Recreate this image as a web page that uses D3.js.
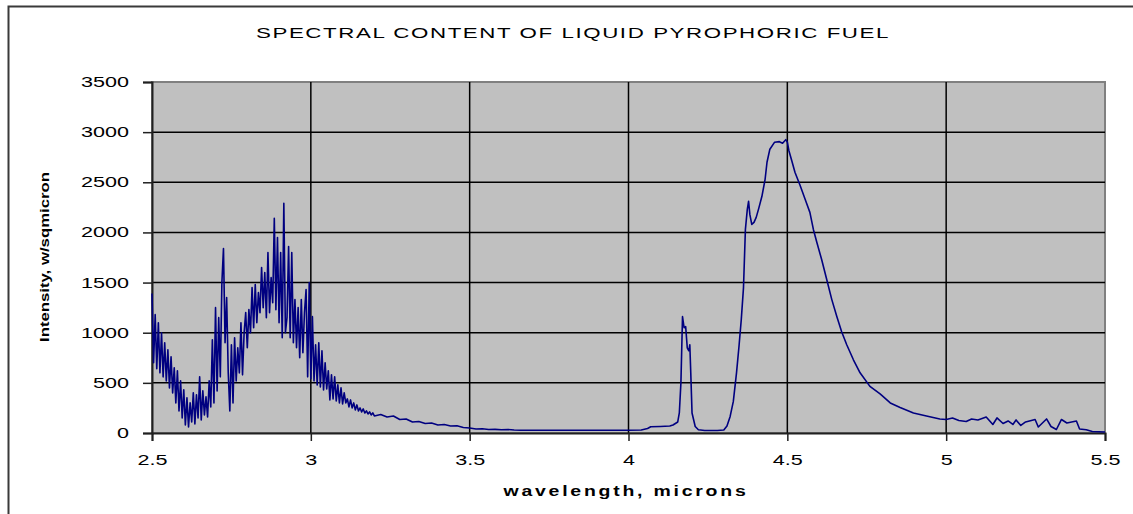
<!DOCTYPE html>
<html>
<head>
<meta charset="utf-8">
<script src="https://cdn.jsdelivr.net/npm/d3@7"></script>
<style>
  body { margin: 0; background: #fff; }
  text { font-family: "Liberation Sans", Arial, sans-serif; fill: #000; }
</style>
</head>
<body>
<svg id="chart"></svg>
<script>
// Chart size
const width = 1133;
const height = 514;

// Wavelength samples (microns)
const wavelength = [
  2.500, 2.505, 2.510, 2.515, 2.520, 2.525, 2.530, 2.535, 2.540, 2.545,
  2.550, 2.555, 2.560, 2.565, 2.570, 2.575, 2.580, 2.585, 2.590, 2.595,
  2.600, 2.605, 2.610, 2.615, 2.620, 2.625, 2.630, 2.635, 2.640, 2.645,
  2.650, 2.655, 2.660, 2.665, 2.670, 2.675, 2.680, 2.685, 2.690, 2.695,
  2.700, 2.705, 2.710, 2.715, 2.720, 2.725, 2.730, 2.735, 2.740, 2.745,
  2.750, 2.755, 2.760, 2.765, 2.770, 2.775, 2.780, 2.785, 2.790, 2.795,
  2.800, 2.805, 2.810, 2.815, 2.820, 2.825, 2.830, 2.835, 2.840, 2.845,
  2.850, 2.855, 2.860, 2.865, 2.870, 2.875, 2.880, 2.885, 2.890, 2.895,
  2.900, 2.905, 2.910, 2.915, 2.920, 2.925, 2.930, 2.935, 2.940, 2.945,
  2.950, 2.955, 2.960, 2.965, 2.970, 2.975, 2.980, 2.985, 2.990, 2.995,
  3.000, 3.005, 3.010, 3.015, 3.020, 3.025, 3.030, 3.035, 3.040, 3.045,
  3.050, 3.055, 3.060, 3.065, 3.070, 3.075, 3.080, 3.085, 3.090, 3.095,
  3.100, 3.105, 3.110, 3.115, 3.120, 3.125, 3.130, 3.135, 3.140, 3.145,
  3.150, 3.155, 3.160, 3.165, 3.170, 3.175, 3.180, 3.185, 3.190, 3.195,
  3.200,
  3.22, 3.24, 3.26, 3.28, 3.30, 3.32, 3.34, 3.36, 3.38, 3.40,
  3.42, 3.44, 3.46, 3.48, 3.50, 3.52, 3.54, 3.56, 3.58, 3.60,
  3.62, 3.64, 3.66, 3.70, 3.75, 3.80, 3.85, 3.90, 3.95, 4.00, 4.04,
  4.060, 4.070, 4.100, 4.130, 4.140, 4.155, 4.160, 4.165, 4.170, 4.175,
  4.180, 4.185, 4.190, 4.193, 4.196, 4.200, 4.210, 4.220, 4.240, 4.260,
  4.280, 4.300, 4.310, 4.320, 4.330, 4.340, 4.348, 4.355, 4.362, 4.368,
  4.374, 4.378, 4.382, 4.388, 4.395, 4.402, 4.410, 4.420, 4.430, 4.436,
  4.445, 4.460, 4.475, 4.485, 4.495, 4.500, 4.505, 4.514, 4.524, 4.540,
  4.556, 4.571, 4.582, 4.593, 4.608, 4.624, 4.640, 4.656, 4.671, 4.687,
  4.708, 4.729, 4.760, 4.792, 4.824, 4.855, 4.897, 4.938, 4.980, 5.000,
  5.020, 5.040, 5.063, 5.080, 5.100, 5.126, 5.147, 5.160, 5.179, 5.195,
  5.210, 5.220, 5.235, 5.250, 5.280, 5.290, 5.316, 5.330, 5.347, 5.363,
  5.380, 5.395, 5.410, 5.420, 5.441, 5.460, 5.500
];

// Intensity (w/sq micron), one value per wavelength above
const intensity = [
  1390, 700, 1180, 640, 1100, 600, 1000, 560, 900, 520,
  830, 450, 760, 400, 650, 300, 620, 220, 520, 150,
  430, 80, 350, 60, 300, 110, 400, 90, 380, 150,
  560, 130, 420, 180, 360, 160, 520, 260, 930, 300,
  1250, 420, 1150, 560, 1500, 1840, 900, 1350, 600, 220,
  880, 300, 950, 520, 850, 600, 1100, 580, 1000, 1200,
  850, 1230, 1000, 1450, 1050, 1480, 1100, 1400, 1200, 1650,
  1250, 1600, 1150, 1800, 1200, 1550, 1300, 2140, 1230, 1950,
  1100, 1800, 950, 2290, 1000, 1150, 1860, 950, 1800, 900,
  1330, 850, 1250, 750, 1330, 800, 1200, 1430, 560, 1500,
  540, 1160, 520, 880, 480, 900, 460, 820, 430, 700,
  440, 620, 330, 580, 340, 560, 320, 480, 300, 450,
  290, 400, 300, 340, 260, 330, 250, 300, 230, 280,
  220, 250, 210, 240, 200, 220, 190, 210, 180, 200,
  170,
  185, 160, 170, 135, 140, 110, 115, 95, 100, 80,
  85, 70, 72, 55, 50, 40, 42, 35, 36, 32,
  35, 30, 28, 28, 28, 28, 28, 28, 28, 28, 30,
  45, 62, 65, 70, 80, 110, 200, 500, 1160, 1050,
  1060, 850, 820, 880, 600, 200, 65, 33, 25, 25,
  25, 30, 70, 165, 315, 600, 870, 1130, 1450, 2030,
  2230, 2310, 2180, 2080, 2100, 2150, 2240, 2360, 2530, 2700,
  2830, 2900, 2905, 2890, 2925, 2900, 2815, 2715, 2600, 2470,
  2330, 2200, 2030, 1900, 1730, 1530, 1330, 1160, 1010, 880,
  730, 600, 465, 390, 300, 255, 200, 170, 140, 135,
  150, 125, 115, 140, 130, 160, 85, 150, 95, 120,
  85, 130, 75, 110, 135, 60, 140, 65, 35, 135,
  100, 110, 120, 40, 33, 15, 10
];

// Axis ticks
const xTicks = [2.5, 3, 3.5, 4, 4.5, 5, 5.5];
const yTicks = [0, 500, 1000, 1500, 2000, 2500, 3000, 3500];

const titleText = "SPECTRAL CONTENT OF LIQUID PYROPHORIC FUEL";
const xTitle = "wavelength, microns";
const yTitle = "Intensity, w/sqmicron";

// Plot area
const plot = { left: 152, top: 82, right: 1105, bottom: 433 };

const svg = d3.select("#chart")
  .attr("width", width)
  .attr("height", height);

// Outer chart frame (runs off the right and bottom edges)
svg.append("rect")
  .attr("x", 8.5)
  .attr("y", 6.5)
  .attr("width", 1140)
  .attr("height", 530)
  .attr("fill", "#fff")
  .attr("stroke", "#3a3a3a")
  .attr("stroke-width", 2);

const x = d3.scaleLinear()
  .domain([2.5, 5.5])
  .range([plot.left, plot.right]);

const y = d3.scaleLinear()
  .domain([0, 3500])
  .range([plot.bottom, plot.top]);

// Grey plot background
svg.append("rect")
  .attr("x", plot.left)
  .attr("y", plot.top)
  .attr("width", plot.right - plot.left)
  .attr("height", plot.bottom - plot.top)
  .attr("fill", "#c0c0c0")
  .attr("stroke", "#808080")
  .attr("stroke-width", 2);

// Gridlines
svg.append("g")
  .selectAll("line")
  .data(yTicks.filter(d => d > 0 && d < 3500))
  .join("line")
  .attr("x1", plot.left)
  .attr("x2", plot.right)
  .attr("y1", d => y(d))
  .attr("y2", d => y(d))
  .attr("stroke", "#000")
  .attr("stroke-width", 1.5);

svg.append("g")
  .selectAll("line")
  .data(xTicks.filter(d => d > 2.5 && d < 5.5))
  .join("line")
  .attr("x1", d => x(d))
  .attr("x2", d => x(d))
  .attr("y1", plot.top)
  .attr("y2", plot.bottom)
  .attr("stroke", "#000")
  .attr("stroke-width", 1.5);

// Axes
const fmt = d3.format("");

const xAxis = svg.append("g")
  .attr("transform", `translate(0,${plot.bottom})`)
  .call(d3.axisBottom(x).tickValues(xTicks).tickFormat(fmt).tickSize(8).tickPadding(14));

const yAxis = svg.append("g")
  .attr("transform", `translate(${plot.left},0)`)
  .call(d3.axisLeft(y).tickValues(yTicks).tickFormat(fmt).tickSize(9).tickPadding(14));

// wide, stretched tick digits like the original
function labelWidth(s) {
  return s.split("").reduce((w, c) => w + (c === "." ? 6 : 12), 0);
}

[xAxis, yAxis].forEach(g => {
  g.select(".domain").attr("stroke", "#202020").attr("stroke-width", 2);
  g.selectAll(".tick line").attr("stroke", "#202020").attr("stroke-width", 1.5);
  g.selectAll(".tick text")
    .attr("fill", "#000")
    .attr("textLength", function() { return labelWidth(this.textContent); })
    .attr("lengthAdjust", "spacingAndGlyphs")
    .style("font-family", "'Liberation Sans', Arial, sans-serif")
    .style("font-size", "14px");
});

// Spectrum line
const points = wavelength.map((w, i) => [w, intensity[i]]);

const line = d3.line()
  .x(d => x(d[0]))
  .y(d => y(d[1]));

svg.append("path")
  .datum(points)
  .attr("fill", "none")
  .attr("stroke", "#000080")
  .attr("stroke-width", 1.6)
  .attr("stroke-linejoin", "round")
  .attr("d", line);

// Title
svg.append("text")
  .attr("x", 573)
  .attr("y", 38)
  .attr("text-anchor", "middle")
  .attr("textLength", 634)
  .attr("lengthAdjust", "spacingAndGlyphs")
  .style("font-size", "14px")
  .style("letter-spacing", "1px")
  .text(titleText);

// X axis title
svg.append("text")
  .attr("x", 626)
  .attr("y", 496)
  .attr("text-anchor", "middle")
  .attr("textLength", 245)
  .attr("lengthAdjust", "spacingAndGlyphs")
  .style("font-size", "14px")
  .style("font-weight", "bold")
  .style("letter-spacing", "2px")
  .text(xTitle);

// Y axis title
svg.append("text")
  .attr("transform", "translate(49,257) rotate(-90)")
  .attr("text-anchor", "middle")
  .attr("textLength", 170)
  .attr("lengthAdjust", "spacingAndGlyphs")
  .style("font-size", "12px")
  .style("font-weight", "bold")
  .text(yTitle);
</script>
</body>
</html>
